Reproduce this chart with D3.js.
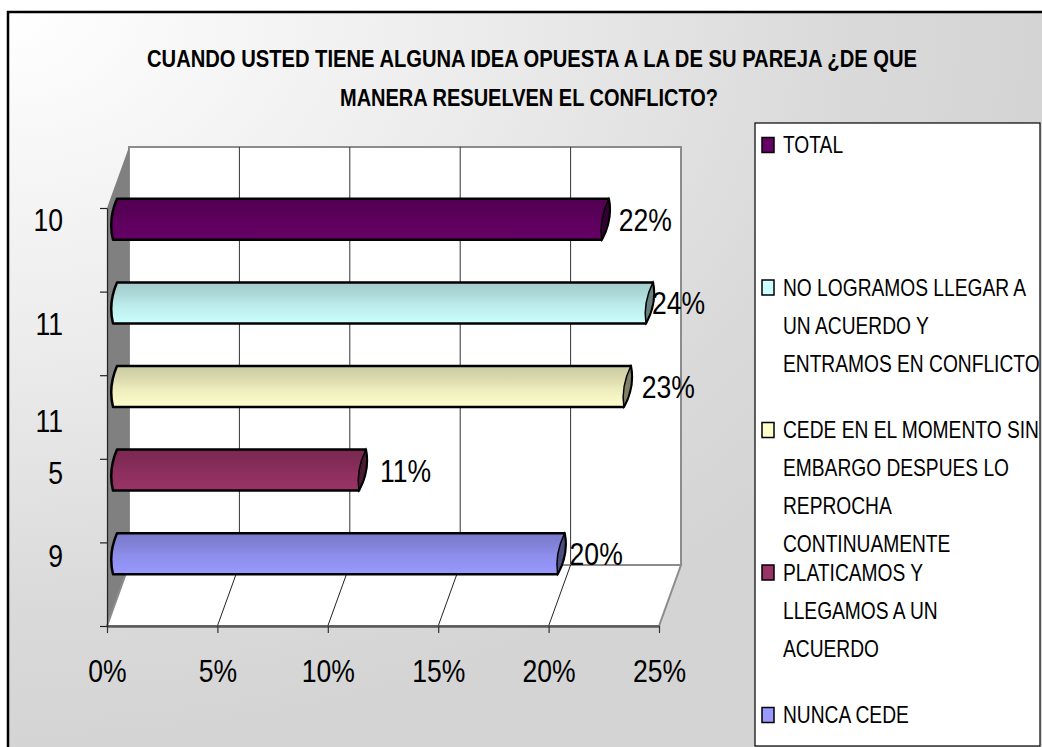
<!DOCTYPE html>
<html>
<head>
<meta charset="utf-8">
<script src="https://cdn.jsdelivr.net/npm/d3@7/dist/d3.min.js"></script>
<style>
  html, body { margin: 0; padding: 0; background: #fff; }
  svg { display: block; }
  text { font-family: "Liberation Sans", Arial, sans-serif; }
</style>
</head>
<body>
<svg id="chart" width="1042" height="747"></svg>
<script>
// ---------------- data ----------------
const titleLines = [
  "CUANDO USTED TIENE ALGUNA IDEA OPUESTA A LA DE SU PAREJA ¿DE QUE",
  "MANERA RESUELVEN EL CONFLICTO?"
];
const categories = [
  "TOTAL",
  "NO LOGRAMOS LLEGAR A\nUN ACUERDO Y\nENTRAMOS EN CONFLICTO",
  "CEDE EN EL MOMENTO SIN\nEMBARGO DESPUES LO\nREPROCHA\nCONTINUAMENTE",
  "PLATICAMOS Y\nLLEGAMOS A UN\nACUERDO",
  "NUNCA CEDE"
];
const percentValues = [0.22, 0.24, 0.23, 0.11, 0.20];
const countLabels = ["10", "11", "11", "5", "9"];
const xTickValues = [0, 0.05, 0.10, 0.15, 0.20, 0.25];

// ---------------- styles / layout ----------------
const barColors = ["#660066", "#CCFFFF", "#FFFFCC", "#993366", "#9999FF"];
const labelNudgeX = [26, 15, 27, 30, 21];      // value label offset from bar end
const countNudgeY = [-30, -10, 3, -28, -29];    // count label offset from band centre
const NARROW = 0.83;                             // horizontal squeeze (Arial Narrow look)

const svg = d3.select("#chart");
const W = 1042, H = 747;
const defs = svg.append("defs");

// background gradient (from top-left corner)
const bg = defs.append("radialGradient").attr("id", "bg")
  .attr("gradientUnits", "userSpaceOnUse")
  .attr("cx", 8).attr("cy", 12).attr("r", 1)
  .attr("gradientTransform", "translate(8,12) scale(1040,740) translate(-8,-12)");
bg.append("stop").attr("offset", "0").attr("stop-color", "#ffffff");
bg.append("stop").attr("offset", "0.45").attr("stop-color", "#ececec");
bg.append("stop").attr("offset", "0.8").attr("stop-color", "#dadada");
bg.append("stop").attr("offset", "1").attr("stop-color", "#d4d4d4");

svg.append("rect").attr("x", 0).attr("y", 0).attr("width", W).attr("height", H).attr("fill", "#ffffff");
svg.append("rect").attr("x", 8).attr("y", 12).attr("width", W + 20).attr("height", H + 20)
  .attr("fill", "url(#bg)").attr("stroke", "#000").attr("stroke-width", 2.5);

// narrow text helper
function ntext(parent, tx, ty, str, size, anchor, s) {
  return parent.append("text")
    .attr("transform", `translate(${tx},${ty}) scale(${s || NARROW},1)`)
    .attr("font-size", size).attr("text-anchor", anchor || "start").attr("fill", "#000")
    .text(str);
}

// ---------------- scales ----------------
const x = d3.scaleLinear().domain([0, 0.25]).range([107, 659]);
const y = d3.scaleBand().domain(d3.range(categories.length)).range([208, 626]).paddingInner(0).paddingOuter(0);
const yEdge = d3.scaleLinear().domain([0, categories.length]).range([208, 626]);
const DX = 22, DY = -61;   // depth offset
const x0 = x(0), x1 = x(0.25), yTop = 208, yBot = 626;

const g = svg.append("g");

// back wall
g.append("path")
  .attr("d", `M${x0 + DX},${yTop + DY} L${x1 + DX},${yTop + DY} L${x1 + DX},${yBot + DY} L${x0 + DX},${yBot + DY} Z`)
  .attr("fill", "#ffffff").attr("stroke", "#8c8c8c").attr("stroke-width", 2);

// back wall gridlines
g.selectAll(".grid").data(xTickValues.slice(1, -1)).join("line")
  .attr("x1", d => x(d) + DX).attr("x2", d => x(d) + DX)
  .attr("y1", yTop + DY).attr("y2", yBot + DY)
  .attr("stroke", "#333").attr("stroke-width", 1);

// side wall
g.append("path")
  .attr("d", `M${x0},${yTop} L${x0 + DX},${yTop + DY} L${x0 + DX},${yBot + DY} L${x0},${yBot} Z`)
  .attr("fill", "#808080");

// floor
g.append("path")
  .attr("d", `M${x0},${yBot} L${x1},${yBot} L${x1 + DX},${yBot + DY} L${x0 + DX},${yBot + DY} Z`)
  .attr("fill", "#ffffff").attr("stroke", "#8c8c8c").attr("stroke-width", 2);

// floor gridlines
g.selectAll(".fgrid").data(xTickValues.slice(1, -1)).join("line")
  .attr("x1", d => x(d)).attr("x2", d => x(d) + DX)
  .attr("y1", yBot).attr("y2", yBot + DY)
  .attr("stroke", "#222").attr("stroke-width", 1);

// x axis
const xAxis = g.append("g").attr("transform", `translate(0,${yBot})`)
  .call(d3.axisBottom(x).tickValues(xTickValues).tickFormat(d3.format(".0%")).tickSize(7).tickPadding(26).tickSizeOuter(0));
xAxis.select(".domain").attr("stroke", "#595959").attr("stroke-width", 2.5);
xAxis.selectAll(".tick line").attr("stroke", "#333").attr("stroke-width", 1.2);
xAxis.selectAll(".tick text").attr("font-size", 32).attr("fill", "#000")
  .attr("transform", `scale(${NARROW},1)`)
  .style("font-family", '"Liberation Sans", Arial, sans-serif');

// y axis (ticks at band edges)
const yAxis = g.append("g").attr("transform", `translate(${x0},0)`)
  .call(d3.axisLeft(yEdge).tickValues(d3.range(categories.length + 1)).tickFormat("").tickSize(7).tickSizeOuter(0));
yAxis.select(".domain").attr("stroke", "#222").attr("stroke-width", 1.2);
yAxis.selectAll(".tick line").attr("stroke", "#222").attr("stroke-width", 1.2);

// count labels
countLabels.forEach((d, i) => {
  ntext(g, 63, y(i) + y.bandwidth() / 2 + countNudgeY[i] + 11.5, d, 32, "end");
});

// ---------------- bars ----------------
function shade(c, k) { return d3.interpolateRgb(c, "#000")(k); }
barColors.forEach((c, i) => {
  const gr = defs.append("linearGradient").attr("id", "bar" + i)
    .attr("x1", 0).attr("y1", 0).attr("x2", 0).attr("y2", 1);
  gr.append("stop").attr("offset", "0").attr("stop-color", shade(c, 0.2));
  gr.append("stop").attr("offset", "0.3").attr("stop-color", shade(c, 0.15));
  gr.append("stop").attr("offset", "0.55").attr("stop-color", shade(c, 0.08));
  gr.append("stop").attr("offset", "1").attr("stop-color", c);
});

const midDX = DX * 0.5, midDY = DY * 0.5;
const barH = y.bandwidth() * 0.49;
const bars = g.selectAll(".bar").data(percentValues).join("g");
bars.each(function (v, i) {
  const sel = d3.select(this);
  const yc = y(i) + y.bandwidth() / 2 + midDY;
  const T = yc - barH / 2, B = yc + barH / 2, M = yc;
  const L = x(0) + 6, R = x(v) + 9;
  sel.append("path")
    .attr("d", `M${L + 4},${T} L${R + 7},${T} Q${R + 11},${M} ${R},${B} L${L},${B} Q${L - 5},${M} ${L + 4},${T} Z`)
    .attr("fill", `url(#bar${i})`).attr("stroke", "#000").attr("stroke-width", 2.5).attr("stroke-linejoin", "round");
  sel.append("path")
    .attr("d", `M${R + 7},${T} Q${R + 11},${M} ${R},${B} Q${R - 3},${M} ${R + 7},${T} Z`)
    .attr("fill", shade(barColors[i], 0.5)).attr("stroke", "#000").attr("stroke-width", 1.5);
  ntext(sel, x(v) + labelNudgeX[i], yc + 11.5, d3.format(".0%")(v), 32, "start");
});

// ---------------- legend ----------------
const lg = svg.append("g");
lg.append("rect").attr("x", 755).attr("y", 123).attr("width", 285).attr("height", 623)
  .attr("fill", "#fff").attr("stroke", "#000").attr("stroke-width", 1.2);
const entryStep = 142.5, lineStep = 37.8;
categories.forEach((c, i) => {
  const cy = 145 + i * entryStep;
  lg.append("rect").attr("x", 762).attr("y", cy - 7.5).attr("width", 12).attr("height", 15)
    .attr("fill", barColors[i]).attr("stroke", "#000").attr("stroke-width", 1.5);
  const t = lg.append("text").attr("font-size", 24).attr("fill", "#000")
    .attr("transform", `translate(783,0) scale(0.8,1)`);
  c.split("\n").forEach((line, j) => {
    t.append("tspan").attr("x", 0).attr("y", cy + 8.5 + j * lineStep).text(line);
  });
});

// ---------------- title ----------------
const tg = svg.append("g");
tg.append("text").attr("x", 147).attr("y", 67).attr("font-size", 24).attr("font-weight", "bold")
  .attr("textLength", 770).attr("lengthAdjust", "spacingAndGlyphs").attr("fill", "#000").text(titleLines[0]);
tg.append("text").attr("x", 340).attr("y", 106).attr("font-size", 24).attr("font-weight", "bold")
  .attr("textLength", 378).attr("lengthAdjust", "spacingAndGlyphs").attr("fill", "#000").text(titleLines[1]);
</script>
</body>
</html>
